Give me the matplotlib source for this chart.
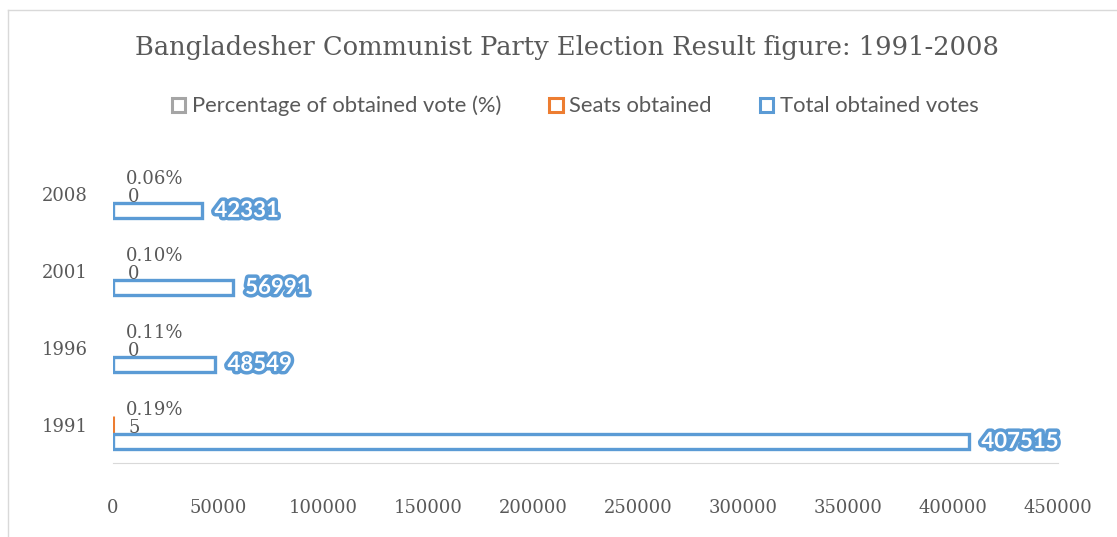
import matplotlib.pyplot as plt
import matplotlib.patheffects as pe
from matplotlib.patches import Patch
from matplotlib.lines import Line2D
import numpy as np

years = ["1991", "1996", "2001", "2008"]
percent = [0.19, 0.11, 0.10, 0.06]
percent_labels = ["0.19%", "0.11%", "0.10%", "0.06%"]
seats = [5, 0, 0, 0]
votes = [407515, 48549, 56991, 42331]
xticks = [0, 50000, 100000, 150000, 200000, 250000, 300000, 350000, 400000, 450000]

blue = "#5B9BD5"
orange = "#ED7D31"
gray = "#A5A5A5"
txt = "#595959"
serif = "DejaVu Serif"

fig = plt.figure(figsize=(11.17, 5.37), dpi=100)
ax = fig.add_axes([113 / 1117, 1 - 463 / 537, 945 / 1117, 308 / 537])

y = np.arange(len(years))
h = 0.22

ax.barh(y + h, percent, height=h * 0.95, color="white", edgecolor=gray, linewidth=0)
ax.barh(y, seats, height=h * 0.95, color=orange, edgecolor=orange,
        linewidth=[2.2 if s > 0 else 0 for s in seats])
ax.barh(y - h, votes, height=h * 0.88, color="white", edgecolor=blue, linewidth=2.4)

for i in range(len(years)):
    ax.annotate(percent_labels[i], xy=(percent[i], y[i] + h), xytext=(9, -2),
                textcoords="offset points", ha="left", va="center",
                fontsize=13, family=serif, color=txt)
    ax.annotate(str(seats[i]), xy=(seats[i], y[i]), xytext=(11, -2.5),
                textcoords="offset points", ha="left", va="center",
                fontsize=13, family=serif, color=txt)
    ax.annotate(str(votes[i]), xy=(votes[i], y[i] - h), xytext=(9, 0),
                textcoords="offset points", ha="left", va="center",
                fontsize=16, family="Lato", fontweight="bold", color="white",
                path_effects=[pe.withStroke(linewidth=5, foreground=blue)])

ax.set_xlim(0, 450000)
ax.set_ylim(-0.5, len(years) - 0.5)
ax.set_xticks(xticks)
ax.set_xticklabels([str(t) for t in xticks], family=serif, fontsize=13, color=txt)
ax.set_yticks(y)
ax.set_yticklabels(years, family=serif, fontsize=13, color=txt)
ax.tick_params(axis="x", length=0, pad=26)
ax.tick_params(axis="y", length=0, pad=18)
for s in ["top", "right", "left"]:
    ax.spines[s].set_visible(False)
ax.spines["bottom"].set_color("#D9D9D9")

fig.text(0.508, 1 - 48 / 537, "Bangladesher Communist Party Election Result figure: 1991-2008",
         ha="center", va="center", family=serif, fontsize=18.5, color=txt)

handles = [Patch(facecolor="white", edgecolor=gray, linewidth=2.2),
           Patch(facecolor="white", edgecolor=orange, linewidth=2.2),
           Patch(facecolor="white", edgecolor=blue, linewidth=2.2)]
fig.legend(handles, ["Percentage of obtained vote (%)", "Seats obtained", "Total obtained votes"],
           loc="center", bbox_to_anchor=(0.515, 1 - 106 / 537), ncol=3, frameon=False,
           handlelength=0.6, handleheight=0.6, handletextpad=0.3, columnspacing=2.2,
           prop={"family": "Lato", "size": 15.8}, labelcolor=txt)

fig.add_artist(Line2D([8 / 1117, 8 / 1117], [0, 1 - 10 / 537], color="#D9D9D9", lw=1))
fig.add_artist(Line2D([8 / 1117, 1], [1 - 10 / 537, 1 - 10 / 537], color="#D9D9D9", lw=1))

fig.savefig("out.png", dpi=100)
